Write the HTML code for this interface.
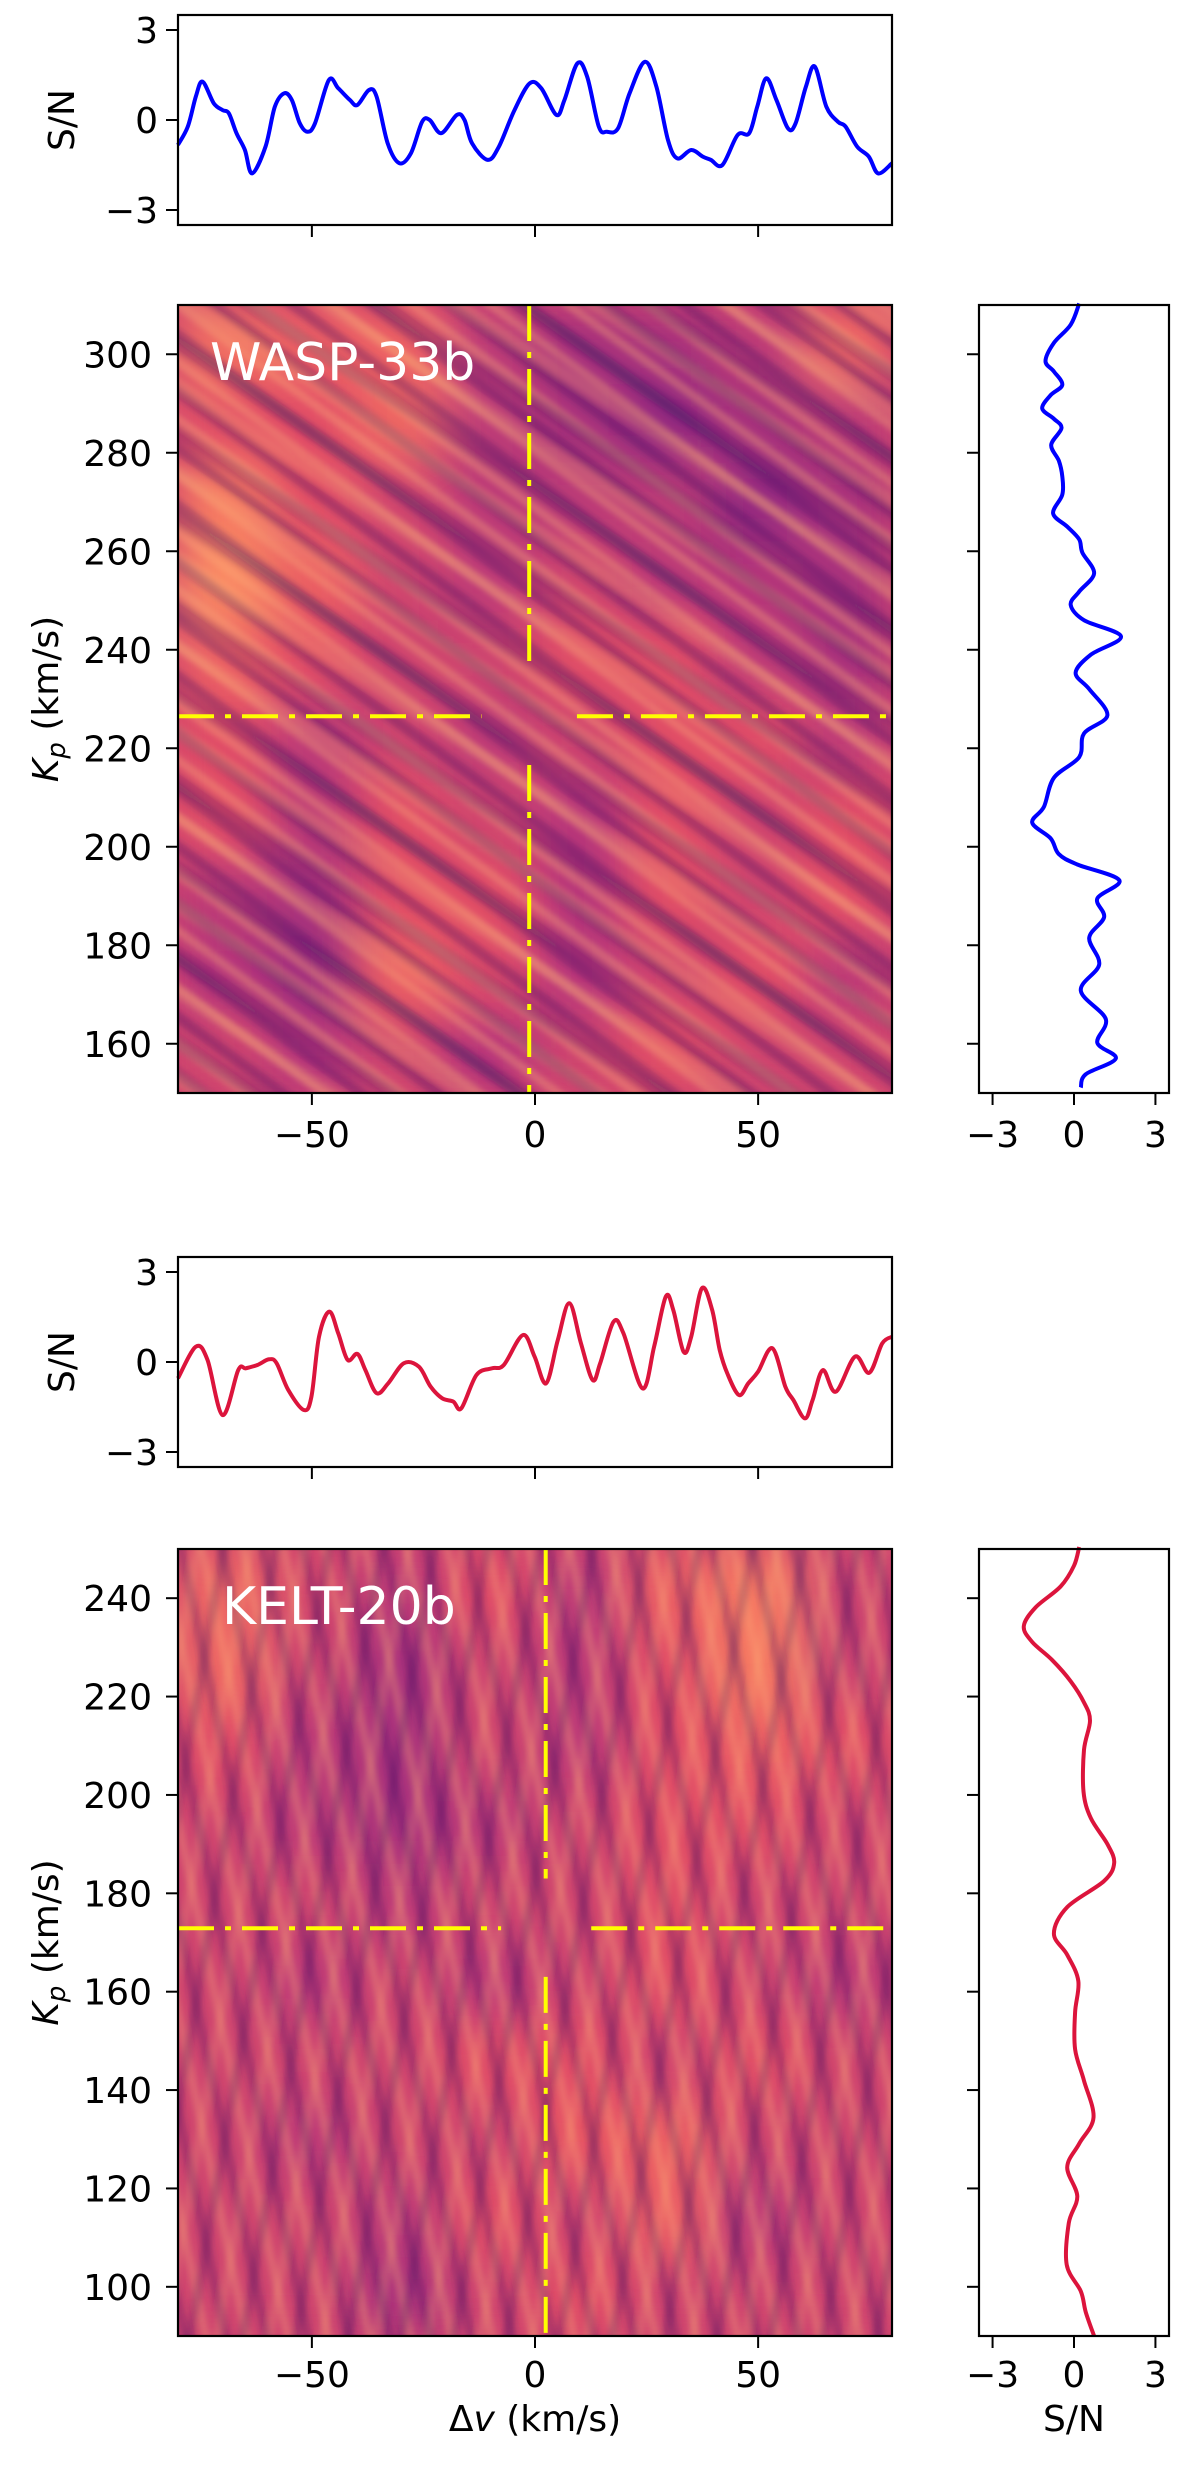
<!DOCTYPE html>
<html><head><meta charset="utf-8">
<style>
html,body{margin:0;padding:0;background:#fff;}
svg{display:block;font-family:"DejaVu Sans","Liberation Sans",sans-serif;}
</style></head>
<body>
<svg id="fig" width="1200" height="2470" viewBox="0 0 1200 2470" xmlns="http://www.w3.org/2000/svg">
<defs>
<filter id="blurA" x="0" y="0" width="1" height="1"><feGaussianBlur stdDeviation="24" edgeMode="duplicate"/></filter>
<filter id="soft" x="-5%" y="-5%" width="110%" height="110%"><feGaussianBlur stdDeviation="3"/></filter>
<pattern id="stripesW" width="46" height="46" patternUnits="userSpaceOnUse" patternTransform="rotate(36)">
<rect x="0" y="0" width="46" height="9" fill="#fcae78" opacity="0.35"/>
<rect x="0" y="23" width="46" height="11" fill="#2c115f" opacity="0.28"/>
</pattern>
<pattern id="stripesW2" width="73" height="73" patternUnits="userSpaceOnUse" patternTransform="rotate(33)">
<rect x="0" y="0" width="73" height="12" fill="#fcae78" opacity="0.25"/>
<rect x="0" y="40" width="73" height="14" fill="#2c115f" opacity="0.22"/>
</pattern>
<pattern id="stripesK1" width="40" height="40" patternUnits="userSpaceOnUse" patternTransform="rotate(78)">
<rect x="0" y="0" width="40" height="9" fill="#fcae78" opacity="0.28"/>
<rect x="0" y="20" width="40" height="10" fill="#2c115f" opacity="0.24"/>
</pattern>
<pattern id="stripesK2" width="52" height="52" patternUnits="userSpaceOnUse" patternTransform="rotate(100)">
<rect x="0" y="0" width="52" height="9" fill="#fcae78" opacity="0.2"/>
<rect x="0" y="26" width="52" height="10" fill="#2c115f" opacity="0.2"/>
</pattern>
<clipPath id="clipH1"><rect x="178" y="305" width="714" height="788"/></clipPath>
<clipPath id="clipH2"><rect x="178" y="1549" width="714" height="787"/></clipPath>
</defs>
<g id="root"></g>
</svg>
<script>
// ---------- DATA ----------
const wTopV  = [-80,-77.8,-76,-74.5,-72,-70,-68.6,-66.9,-65,-63.4,-60.4,-58.3,-56.2,-54.5,-52.7,-51,-49.3,-46.2,-44.1,-41.5,-39.8,-37.2,-35.5,-33,-30.4,-27.8,-25.3,-23.6,-21,-17.5,-15.8,-14.1,-10.6,-8.1,-4.6,-1.2,1.4,4.8,6.6,9.5,11.7,14.3,16.1,18.6,21.2,24.6,27.2,29.8,31.9,35,37.6,39.4,42,45.4,48,49.8,51.8,54.1,56.7,58.4,60.7,62.7,65.3,67.9,69.6,72.2,74.8,76.9,80];
const wTopSN = [-0.83,-0.22,0.78,1.28,0.56,0.33,0.22,-0.44,-1.0,-1.78,-0.89,0.44,0.89,0.67,-0.11,-0.39,-0.11,1.33,1.06,0.67,0.5,1.0,0.78,-0.78,-1.44,-1.11,-0.06,0,-0.44,0.17,0,-0.78,-1.33,-0.89,0.33,1.22,1.06,0.17,0.67,1.89,1.44,-0.22,-0.39,-0.28,0.89,1.94,1.11,-0.67,-1.28,-1.0,-1.22,-1.33,-1.5,-0.5,-0.44,0.44,1.39,0.67,-0.28,-0.11,1.11,1.78,0.44,-0.06,-0.22,-0.89,-1.22,-1.78,-1.44];

const kTopV  = [-80,-76,-73.4,-70,-66.5,-64.8,-62.2,-59.6,-57.9,-55.3,-51.8,-50.1,-48.4,-46.1,-44.1,-42,-39.8,-38,-35.5,-32.9,-29.4,-26,-23.4,-20.8,-18.3,-16.5,-13.1,-9.6,-7,-2.7,-0.1,2.5,5.1,7.7,10.3,12.9,14.6,17.6,19.8,24.1,26.7,29.3,31,33.3,35,37.4,39.7,41.4,43.1,45.7,47.8,50,53.2,56.1,57.9,60.5,62.2,64.5,67.4,71.7,74.9,77.8,80];
const kTopSN = [-0.54,0.51,0.07,-1.77,-0.27,-0.21,-0.1,0.09,-0.04,-0.93,-1.6,-1.16,0.84,1.68,0.96,0.07,0.27,-0.27,-1.04,-0.71,-0.04,-0.16,-0.82,-1.21,-1.32,-1.54,-0.43,-0.21,-0.1,0.9,0.18,-0.71,0.73,1.96,0.62,-0.6,-0.04,1.34,0.96,-0.88,0.51,2.18,1.73,0.34,0.84,2.46,1.73,0.4,-0.38,-1.1,-0.71,-0.32,0.46,-0.82,-1.27,-1.88,-1.27,-0.27,-0.99,0.18,-0.36,0.62,0.84];

const wSideKp = [310.3,306,302.3,298.6,296.5,293.8,291.7,289,286.9,285,281.6,278.4,275.2,271.5,267.7,265,262.4,259.7,255.5,251.8,249.1,246,242.7,239,235.3,232,226.7,223,218.2,214,208.1,204.9,201.7,198.5,196.4,193.2,189.5,185.7,181.5,176.1,170.8,165,160.2,157,153.8,151.1];
const wSideSN = [0.19,-0.12,-0.74,-1.05,-0.74,-0.43,-0.86,-1.17,-0.74,-0.46,-0.84,-0.56,-0.43,-0.43,-0.77,-0.25,0.19,0.31,0.74,0.19,-0.12,0.37,1.73,0.62,0.06,0.56,1.23,0.37,0.19,-0.74,-1.11,-1.54,-0.86,-0.56,0.12,1.67,0.86,1.11,0.56,0.93,0.25,1.17,0.86,1.54,0.43,0.25];

const kSideKp = [250.4,246.6,242.4,238.1,234.3,231.1,227.4,223.1,218.8,215.1,209.2,200.7,195.3,190,186.2,182.5,177.2,171.8,167.5,162.2,155.8,148.3,141.9,134.4,129.1,124.3,118.4,113,104.5,99.1,94.9,90];
const kSideSN = [0.19,0,-0.49,-1.42,-1.85,-1.54,-0.8,-0.12,0.37,0.59,0.37,0.35,0.62,1.23,1.48,1.11,-0.25,-0.74,-0.25,0.16,0.04,0.04,0.37,0.72,0.19,-0.25,0.12,-0.19,-0.27,0.25,0.43,0.74];

// coarse heatmap intensities (0..1, magma), rows top->bottom, cols left->right
const wGrid = [
 [.7,.66,.66,.52,.47,.47,.52,.68],
 [.62,.62,.68,.52,.47,.42,.47,.52],
 [.72,.62,.57,.52,.52,.52,.42,.47],
 [.76,.66,.57,.52,.57,.52,.5,.47],
 [.66,.62,.57,.57,.62,.62,.52,.47],
 [.62,.52,.57,.52,.57,.62,.62,.52],
 [.62,.52,.62,.57,.5,.62,.57,.62],
 [.52,.47,.62,.62,.5,.62,.57,.62],
 [.5,.45,.66,.6,.5,.57,.62,.52],
 [.57,.5,.57,.5,.57,.62,.57,.57]];
const kGrid = [
 [.68,.58,.52,.62,.52,.66,.72,.56],
 [.68,.56,.47,.57,.52,.62,.72,.56],
 [.62,.52,.47,.57,.52,.62,.66,.62],
 [.57,.52,.47,.52,.57,.62,.62,.57],
 [.57,.57,.52,.57,.57,.62,.57,.57],
 [.57,.52,.57,.52,.57,.62,.57,.52],
 [.57,.57,.57,.62,.62,.57,.62,.57],
 [.57,.52,.57,.57,.64,.66,.57,.57],
 [.57,.57,.52,.62,.57,.66,.52,.57],
 [.57,.57,.47,.57,.62,.57,.57,.57]];

const vTicks = [-50,0,50];
const vTickLabels = ["\u221250","0","50"];
const snTicks = [-3,0,3];
const snTickLabels = ["\u22123","0","3"];
const wKpTicks = [160,180,200,220,240,260,280,300];
const kKpTicks = [100,120,140,160,180,200,220,240];
const wMarker = {v:-1.3, kp:226.5, vGapLo:-12, vGapHi:9.4, kpGapLo:216.6, kpGapHi:236};
const kMarker = {v:2.4, kp:172.9, vGapLo:-7.6, vGapHi:12.6, kpGapLo:163, kpGapHi:183};

// ---------- HELPERS ----------
const NS = "http://www.w3.org/2000/svg";
const root = document.getElementById('root');
function mk(tag, attrs, parent){
  const e = document.createElementNS(NS, tag);
  for (const k in attrs) e.setAttribute(k, attrs[k]);
  (parent||root).appendChild(e);
  return e;
}
function lin(d0,d1,p0,p1){ return v => p0 + (v-d0)*(p1-p0)/(d1-d0); }
const magmaStops = [[0,[0,0,4]],[0.13,[28,16,68]],[0.25,[79,18,123]],[0.38,[129,37,129]],[0.5,[181,54,122]],[0.63,[229,80,100]],[0.75,[251,135,97]],[0.88,[254,194,135]],[1,[252,253,191]]];
function magma(t){
  t=Math.max(0,Math.min(1,t));
  for(let i=1;i<magmaStops.length;i++){
    if(t<=magmaStops[i][0]){
      const a=magmaStops[i-1],b=magmaStops[i],f=(t-a[0])/(b[0]-a[0]);
      const c=a[1].map((x,j)=>Math.round(x+(b[1][j]-x)*f));
      return `rgb(${c[0]},${c[1]},${c[2]})`;
    }
  }
  return 'rgb(252,253,191)';
}
function txt(x,y,s,attrs,name){
  const t = mk('text', Object.assign({x:x,y:y,'font-size':36,fill:'#000'},attrs||{}));
  t.textContent = s;
  
  
  return t;
}
function frame(x0,y0,x1,y1,name){
  const r = mk('rect',{x:x0,y:y0,width:x1-x0,height:y1-y0,fill:'none',stroke:'#000','stroke-width':2.2});
  
  
}
// smooth Catmull-Rom path through data points
function pathFrom(xs,ys,sx,sy){
  const P = xs.map((v,i)=>[sx(v),sy(ys[i])]);
  let d = 'M'+P[0][0].toFixed(1)+','+P[0][1].toFixed(1);
  for(let i=0;i<P.length-1;i++){
    const p0=P[Math.max(0,i-1)],p1=P[i],p2=P[i+1],p3=P[Math.min(P.length-1,i+2)];
    const c1=[p1[0]+(p2[0]-p0[0])/6,p1[1]+(p2[1]-p0[1])/6];
    const c2=[p2[0]-(p3[0]-p1[0])/6,p2[1]-(p3[1]-p1[1])/6];
    d+=` C${c1[0].toFixed(1)},${c1[1].toFixed(1)} ${c2[0].toFixed(1)},${c2[1].toFixed(1)} ${p2[0].toFixed(1)},${p2[1].toFixed(1)}`;
  }
  return d;
}

const X0=178, X1=892;
const sxV = lin(-80,80,X0,X1);
const SX0=979, SX1=1169;
const sxS = lin(-3.5,3.5,SX0,SX1);

// ---------- TOP S/N PANELS ----------
function snPanel(y0,y1,vs,sns,color,pre){
  const sy = lin(-3.5,3.5,y1,y0);
  const g = mk('g',{});
  
  
  const p = mk('path',{d:pathFrom(vs,sns,sxV,sy),fill:'none',stroke:color,'stroke-width':4,'stroke-linejoin':'round'},g);
  
  
  frame(X0,y0,X1,y1,pre+'-sn-frame');
  snTicks.forEach((t,i)=>{
    const tk = mk('line',{x1:X0-12,x2:X0,y1:sy(t),y2:sy(t),stroke:'#000','stroke-width':2});
    
    
    txt(X0-20,sy(t)+13,snTickLabels[i],{'text-anchor':'end'},pre+'-sn-ytick-label');
  });
  vTicks.forEach(t=>{
    const tk = mk('line',{x1:sxV(t),x2:sxV(t),y1:y1,y2:y1+12,stroke:'#000','stroke-width':2});
    
    
  });
  txt(0,0,'S/N',{'text-anchor':'middle',transform:`translate(74,${(y0+y1)/2}) rotate(-90)`},pre+'-sn-ylabel');
}
snPanel(15,225,wTopV,wTopSN,'#0000ff','wasp');
snPanel(1257,1467,kTopV,kTopSN,'#dc143c','kelt');

// ---------- HEATMAPS ----------
function heatmap(y0,y1,kpLo,kpHi,grid,clip,stripes,marker,kpTicks,label,labelX,pre,xlabBase){
  const sy = lin(kpLo,kpHi,y1,y0);
  const g = mk('g',{'clip-path':`url(#${clip})`});
  
  
  const bg = mk('rect',{x:X0,y:y0,width:X1-X0,height:y1-y0,fill:magma(0.57)},g);
  
  
  const cg = mk('g',{filter:'url(#blurA)'},g);
  const nr = grid.length, nc = grid[0].length;
  const dv = 160/nc, dk = (kpHi-kpLo)/nr;
  grid.forEach((row,r)=>row.forEach((val,c)=>{
    const vx = -80 + c*dv, kTop = kpHi - r*dk;
    const cell = mk('rect',{x:sxV(vx),y:sy(kTop),width:sxV(vx+dv)-sxV(vx)+0.5,height:sy(kTop-dk)-sy(kTop)+0.5,fill:magma(val)},cg);
    
    
  }));
  const tg = mk('g',{filter:'url(#soft)'},g);
  stripes.forEach(s=>{
    const st = mk('rect',{x:X0-20,y:y0-20,width:X1-X0+40,height:y1-y0+40,fill:`url(#${s})`},tg);
    
    
  });
  const dash = {stroke:'#ffff00','stroke-width':4,'stroke-dasharray':'36 11 6 11',fill:'none'};
  const segs = [
    [sxV(marker.v),sy(kpHi),sxV(marker.v),sy(marker.kpGapHi)],
    [sxV(marker.v),sy(marker.kpGapLo),sxV(marker.v),sy(kpLo)],
    [sxV(-80),sy(marker.kp),sxV(marker.vGapLo),sy(marker.kp)],
    [sxV(marker.vGapHi),sy(marker.kp),sxV(80),sy(marker.kp)]];
  segs.forEach(s=>{
    const l = mk('line',Object.assign({x1:s[0],y1:s[1],x2:s[2],y2:s[3]},dash),g);
    
    
  });
  txt(labelX,y0+75,label,{'font-size':52,fill:'#fff'},pre+'-planet-label');
  frame(X0,y0,X1,y1,pre+'-heatmap-frame');
  kpTicks.forEach(t=>{
    const tk = mk('line',{x1:X0-12,x2:X0,y1:sy(t),y2:sy(t),stroke:'#000','stroke-width':2});
    
    
    txt(X0-26,sy(t)+13,String(t),{'text-anchor':'end'},pre+'-kp-tick-label');
  });
  vTicks.forEach((t,i)=>{
    const tk = mk('line',{x1:sxV(t),x2:sxV(t),y1:y1,y2:y1+12,stroke:'#000','stroke-width':2});
    
    
    txt(sxV(t),xlabBase,vTickLabels[i],{'text-anchor':'middle'},pre+'-v-tick-label');
  });
  const kl = mk('text',{x:0,y:0,'font-size':36,'text-anchor':'middle',transform:`translate(58,${(y0+y1)/2}) rotate(-90)`});
  
  
  const t1 = mk('tspan',{'font-style':'italic'},kl); t1.textContent='K';
  const t2 = mk('tspan',{'font-style':'italic','font-size':26,dy:7},kl); t2.textContent='p';
  const t3 = mk('tspan',{dy:-7},kl); t3.textContent=' (km/s)';
  return sy;
}
function sidePanel(y0,y1,sy,kps,sns,color,kpTicks,pre,xlabBase){
  const p = mk('path',{d:pathFrom(sns,kps,sxS,sy),fill:'none',stroke:color,'stroke-width':4,'stroke-linejoin':'round'});
  
  
  frame(SX0,y0,SX1,y1,pre+'-side-frame');
  kpTicks.forEach(t=>{
    const tk = mk('line',{x1:SX0-12,x2:SX0,y1:sy(t),y2:sy(t),stroke:'#000','stroke-width':2});
    
    
  });
  snTicks.forEach((t,i)=>{
    const tk = mk('line',{x1:sxS(t),x2:sxS(t),y1:y1,y2:y1+12,stroke:'#000','stroke-width':2});
    
    
    txt(sxS(t),xlabBase,snTickLabels[i],{'text-anchor':'middle'},pre+'-side-sn-tick-label');
  });
}
const sy1 = heatmap(305,1093,150,310,wGrid,'clipH1',['stripesW','stripesW2'],wMarker,wKpTicks,'WASP-33b',210,'wasp',1147);
sidePanel(305,1093,sy1,wSideKp,wSideSN,'#0000ff',wKpTicks,'wasp',1147);
const sy2 = heatmap(1549,2336,90,250,kGrid,'clipH2',['stripesK1','stripesK2'],kMarker,kKpTicks,'KELT-20b',222,'kelt',2387);
sidePanel(1549,2336,sy2,kSideKp,kSideSN,'#dc143c',kKpTicks,'kelt',2387);

const xl = mk('text',{x:535,y:2431,'font-size':36,'text-anchor':'middle'});


const a1 = mk('tspan',{},xl); a1.textContent='\u0394';
const a2 = mk('tspan',{'font-style':'italic'},xl); a2.textContent='v';
const a3 = mk('tspan',{},xl); a3.textContent=' (km/s)';
txt(1074,2431,'S/N',{'text-anchor':'middle'},'side-sn-axis-label');
</script>
</body></html>
